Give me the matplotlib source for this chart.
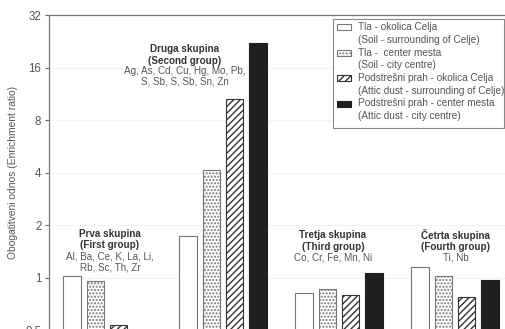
import matplotlib
matplotlib.use("Agg")
import matplotlib.pyplot as plt
from matplotlib.patches import Rectangle
from matplotlib.ticker import FixedLocator, NullLocator

plt.rcParams["font.family"] = ["Liberation Sans", "DejaVu Sans"]
plt.rcParams["hatch.linewidth"] = 1.0

# --- data ---------------------------------------------------------------
groups = ["Prva skupina", "Druga skupina", "Tretja skupina", "Četrta skupina"]
groups_en = ["(First group)", "(Second group)", "(Third group)", "(Fourth group)"]
group_elements = [
    ["Al, Ba, Ce, K, La, Li,", "Rb, Sc, Th, Zr"],
    ["Ag, As, Cd, Cu, Hg, Mo, Pb,", "S, Sb, S, Sb, Sn, Zn"],
    ["Co, Cr, Fe, Mn, Ni"],
    ["Ti, Nb"],
]
soil_surroundings = [1.02, 1.72, 0.81, 1.14]
soil_city = [0.95, 4.15, 0.85, 1.02]
dust_surroundings = [0.53, 10.6, 0.79, 0.77]
dust_city = [0.45, 22.0, 1.05, 0.96]

series_labels = [
    ("Tla - okolica Celja", "(Soil - surrounding of Celje)"),
    ("Tla -  center mesta", "(Soil - city centre)"),
    ("Podstrešni prah - okolica Celja", "(Attic dust - surrounding of Celje)"),
    ("Podstrešni prah - center mesta", "(Attic dust - city centre)"),
]
yticks = [0.5, 1, 2, 4, 8, 16, 32]
ytick_labels = ["0.5", "1", "2", "4", "8", "16", "32"]

# --- styling --------------------------------------------------------------
W, H = 506, 329
styles = [
    dict(facecolor="white", edgecolor="#777777", hatch=None),
    dict(facecolor="white", edgecolor="#777777", hatch="....."),
    dict(facecolor="white", edgecolor="#333333", hatch="/////"),
    dict(facecolor="#1f1f1f", edgecolor="#1f1f1f", hatch=None),
]
TXT = "#555555"
BOLD = "#333333"
FS = 7.1


def fx(px):
    return px / W


def fy(py):
    return 1 - py / H


fig = plt.figure(figsize=(W / 100, H / 100), dpi=100)
# axes extends slightly past the lower and right edges of the canvas
ax_left, ax_right, ax_top, ax_bottom = 49, 513, 15, 330.5
ax = fig.add_axes([fx(ax_left), fy(ax_bottom), (ax_right - ax_left) / W,
                   (ax_bottom - ax_top) / H])

series = [soil_surroundings, soil_city, dust_surroundings, dust_city]
offsets = [-0.3, -0.1, 0.1, 0.3]
bar_w = 0.152
xs = list(range(len(groups)))
for vals, off, st in zip(series, offsets, styles):
    ax.bar([x + off for x in xs], vals, width=bar_w, bottom=0.01,
           facecolor=st["facecolor"], edgecolor=st["edgecolor"],
           hatch=st["hatch"], linewidth=0.8, zorder=3)

ax.set_yscale("log", base=2)
ax.set_ylim(0.5, 32)
ax.set_xlim(-0.5, 3.5)
ax.yaxis.set_major_locator(FixedLocator(yticks))
ax.yaxis.set_minor_locator(NullLocator())
ax.set_yticks(yticks)
ax.set_yticklabels(ytick_labels)
ax.set_xticks([])
ax.tick_params(axis="y", direction="out", length=3, width=0.8, colors="#666666",
               labelcolor=TXT, labelsize=8.3, pad=2.5)
for side in ["left", "top", "right", "bottom"]:
    ax.spines[side].set_color("#777777")
    ax.spines[side].set_linewidth(0.9)
ax.yaxis.grid(True, color="#f3f3f3", linewidth=0.8, zorder=0)
ax.set_ylabel("Obogatitveni odnos (Enrichment ratio)", fontsize=7.4, color=TXT,
              labelpad=5)

# group captions, in pixel rows
caption_rows = [
    (110, [234, 245.5, 256.5, 267.5]),
    (185, [49, 61, 71.5, 82]),
    (333, [235, 247, 257.5]),
    (456, [235, 247, 257.5]),
]
for g, (cx, rows) in enumerate(caption_rows):
    lines = [(groups[g], "bold", BOLD), (groups_en[g], "bold", BOLD)]
    lines += [(t, "normal", TXT) for t in group_elements[g]]
    for (t, wt, col), ry in zip(lines, rows):
        fig.text(fx(cx), fy(ry), t, ha="center", va="center", fontsize=FS,
                 fontweight=wt, color=col)

# legend box
fig.patches.append(Rectangle((fx(333), fy(128)), fx(504) - fx(333), fy(19) - fy(128),
                             transform=fig.transFigure, facecolor="white",
                             edgecolor="#888888", linewidth=0.8, zorder=5))
entry_rows = [27, 52.5, 78, 103.5]
for (l1, l2), st, ry in zip(series_labels, styles, entry_rows):
    fig.patches.append(Rectangle((fx(336.5), fy(ry + 3)), fx(14), fy(0) - fy(6),
                                 transform=fig.transFigure,
                                 facecolor=st["facecolor"], edgecolor=st["edgecolor"],
                                 hatch=st["hatch"], linewidth=0.8, zorder=6))
    fig.text(fx(358), fy(ry), l1, ha="left", va="center", fontsize=7.2, color=TXT,
             zorder=7)
    fig.text(fx(358), fy(ry + 12.7), l2, ha="left", va="center", fontsize=7.2,
             color=TXT, zorder=7)

fig.savefig("out.png", dpi=100)
